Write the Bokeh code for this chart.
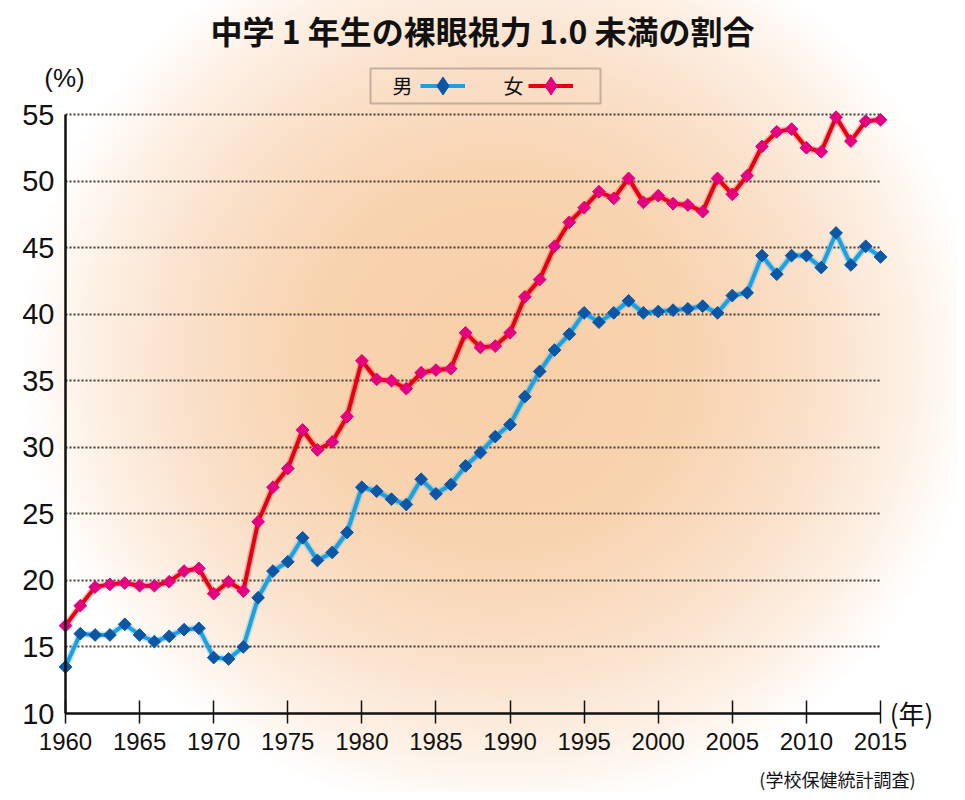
from bokeh.plotting import figure
from bokeh.models import Range1d, FixedTicker, Legend, LegendItem, Label, BoxAnnotation
from bokeh.embed import file_html
from bokeh.resources import INLINE

years = list(range(1960, 2016))
boys = [13.5, 16.0, 15.9, 15.9, 16.7, 15.9, 15.4, 15.8, 16.3, 16.4,
        14.2, 14.1, 15.0, 18.7, 20.7, 21.4, 23.2, 21.5, 22.1, 23.6,
        27.0, 26.7, 26.1, 25.7, 27.6, 26.5, 27.2, 28.6, 29.6, 30.8,
        31.7, 33.8, 35.7, 37.3, 38.5, 40.1, 39.4, 40.1, 41.0, 40.1,
        40.2, 40.3, 40.4, 40.6, 40.1, 41.4, 41.6, 44.4, 43.0, 44.4,
        44.4, 43.5, 46.1, 43.7, 45.1, 44.3]
girls = [16.6, 18.1, 19.5, 19.7, 19.8, 19.6, 19.6, 19.9, 20.7, 20.9,
         19.0, 19.9, 19.2, 24.4, 27.0, 28.4, 31.3, 29.8, 30.4, 32.3,
         36.5, 35.1, 35.0, 34.4, 35.6, 35.8, 35.9, 38.6, 37.5, 37.6,
         38.6, 41.3, 42.6, 45.1, 46.9, 48.0, 49.2, 48.7, 50.2, 48.4,
         48.9, 48.3, 48.2, 47.7, 50.2, 49.0, 50.4, 52.6, 53.7, 53.9,
         52.5, 52.2, 54.8, 53.0, 54.5, 54.6]
x_ticks = [1960, 1965, 1970, 1975, 1980, 1985, 1990, 1995, 2000, 2005, 2010, 2015]
y_ticks = [10, 15, 20, 25, 30, 35, 40, 45, 50, 55]
series_names = ["男", "女"]
title_text = "中学 1 年生の裸眼視力 1.0 未満の割合"
source_text = "(学校保健統計調査)"

BOY_LINE = "#1ba1e2"
BOY_MARK = "#0b57a6"
GIRL_LINE = "#e60012"
GIRL_MARK = "#e4007f"

# canvas geometry (pixels): the frame fills the whole canvas, the data box sits inside
W, H = 957, 792
PAD_L, PAD_R, PAD_T, PAD_B = 65, 77, 114, 79
xlo, xhi = x_ticks[0], x_ticks[-1]
ylo, yhi = y_ticks[0], y_ticks[-1]
kx = (W - PAD_L - PAD_R) / (xhi - xlo)
ky = (H - PAD_T - PAD_B) / (yhi - ylo)

p = figure(width=W, height=H, output_backend="svg", toolbar_location=None,
           x_range=Range1d(xlo - PAD_L / kx, xhi + PAD_R / kx),
           y_range=Range1d(ylo - PAD_B / ky, yhi + PAD_T / ky),
           min_border=0)
p.background_fill_color = None
p.border_fill_color = None
p.outline_line_color = None
p.styles = {"background": "radial-gradient(ellipse 480px 460px at 500px 360px, "
                          "#f7cfa8 0%, #f8d3af 40%, #fae0c9 65%, #fdf0e4 85%, #ffffff 100%)"}

# axes, pinned at the data box edges
xa = p.xaxis[0]
xa.fixed_location = ylo
xa.bounds = (xlo, xhi)
xa.ticker = FixedTicker(ticks=x_ticks)
xa.minor_tick_line_color = None
xa.axis_line_width = 2.5
xa.axis_line_color = "#111111"
xa.major_tick_in = 13
xa.major_tick_out = 10
xa.major_tick_line_width = 1.5
xa.major_tick_line_color = "#111111"
xa.major_label_text_font = "Liberation Sans"
xa.major_label_text_font_size = "24px"
xa.major_label_text_color = "#111111"
xa.major_label_standoff = 9

ya = p.yaxis[0]
ya.fixed_location = xlo
ya.bounds = (ylo, yhi)
ya.ticker = FixedTicker(ticks=y_ticks)
ya.minor_tick_line_color = None
ya.axis_line_width = 2.5
ya.axis_line_color = "#111111"
ya.major_tick_in = 0
ya.major_tick_out = 0
ya.major_label_text_font = "Liberation Sans"
ya.major_label_text_font_size = "29px"
ya.major_label_text_color = "#111111"
ya.major_label_standoff = 11

p.xgrid.grid_line_color = None
yg = p.ygrid[0]
yg.ticker = FixedTicker(ticks=y_ticks[1:])
yg.grid_line_color = "#4a3c36"
yg.grid_line_width = 2
yg.grid_line_dash = "2 2"
if "cross_bounds" in yg.properties():
    yg.cross_bounds = (xlo, xhi)

# data
for vals, lc, mc in [(boys, BOY_LINE, BOY_MARK), (girls, GIRL_LINE, GIRL_MARK)]:
    p.line(years, vals, line_color=lc, line_width=7, line_alpha=0.25)
    p.line(years, vals, line_color=lc, line_width=4)
    p.scatter(years, vals, marker="square", angle=0.785398, size=9,
              fill_color=mc, line_color=mc)

# legend proxies (a single NaN point: nothing drawn in the plot, only in the legend)
nan = [float("nan")]
b_l = p.line(x=nan, y=nan, line_color=BOY_LINE, line_width=4)
b_m = p.scatter(x=nan, y=nan, marker="diamond", size=22,
                fill_color=BOY_MARK, line_color=BOY_MARK)
g_l = p.line(x=nan, y=nan, line_color=GIRL_LINE, line_width=4)
g_m = p.scatter(x=nan, y=nan, marker="diamond", size=22,
                fill_color=GIRL_MARK, line_color=GIRL_MARK)
legend = Legend(items=[LegendItem(label=" ", renderers=[b_l, b_m]),
                       LegendItem(label=" ", renderers=[g_l, g_m])],
                orientation="horizontal", location=(420, 684),
                padding=0, margin=0, spacing=63, glyph_width=45, glyph_height=45,
                label_width=0, label_standoff=0, label_height=45,
                label_text_font_size="1px",
                border_line_alpha=0, background_fill_alpha=0)
p.add_layout(legend, "center")
p.add_layout(BoxAnnotation(left=370, right=600, top=724, bottom=689,
                           left_units="screen", right_units="screen",
                           top_units="screen", bottom_units="screen",
                           fill_alpha=0, line_color="#4a4040", line_width=2))

CJK = "Noto Sans CJK JP"
def label(x, y, text, font, size, align="center", style="normal"):
    p.add_layout(Label(x=x, y=y, x_units="screen", y_units="screen", text=text,
                       text_font=font, text_font_size=size, text_font_style=style,
                       text_align=align, text_baseline="middle", text_color="#111111"))

label(402, 707, series_names[0], CJK, "20px")
label(513, 707, series_names[1], CJK, "20px")
label(482, 763, title_text, CJK, "32px", style="bold")
label(64, 715, "(%)", "Liberation Sans", "26px")
label(911, 80, "(年)", CJK, "26px")
label(915, 14, source_text, CJK, "18px", align="right")

open("out.html", "w").write(file_html(p, INLINE))
